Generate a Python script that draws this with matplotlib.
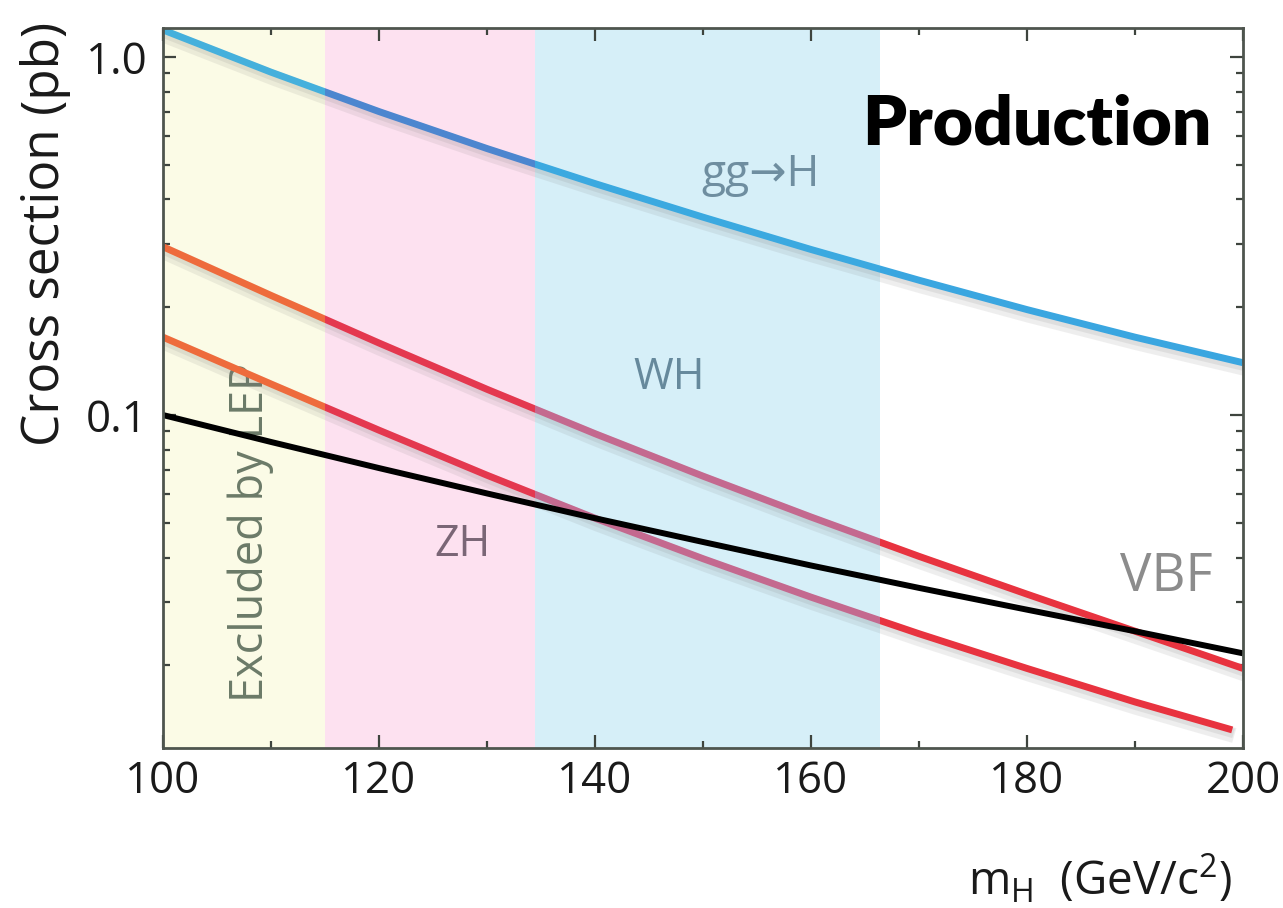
import matplotlib
matplotlib.use("Agg")
import matplotlib.pyplot as plt
from matplotlib.patches import Rectangle
from matplotlib import patheffects as pe
from matplotlib.ticker import FixedLocator, LogLocator, NullFormatter, FixedFormatter, MultipleLocator

# Higgs boson mass (GeV/c^2)
mass = [100, 110, 120, 130, 140, 150, 160, 170, 180, 190, 200]
mass_zh = [100, 110, 120, 130, 140, 150, 160, 170, 180, 190, 199]

# Production cross sections (pb)
sigma_ggh = [1.190, 0.907, 0.704, 0.555, 0.443, 0.357, 0.290, 0.238, 0.197, 0.165, 0.140]
sigma_wh = [0.2951, 0.2158, 0.1589, 0.1180, 0.0887, 0.0675, 0.0519, 0.0403, 0.0316, 0.0249, 0.0196]
sigma_zh = [0.1650, 0.1221, 0.0907, 0.0679, 0.0515, 0.0397, 0.0310, 0.0245, 0.0196, 0.0158, 0.0132]
sigma_vbf = [0.1000, 0.0841, 0.0711, 0.0604, 0.0515, 0.0442, 0.0380, 0.0329, 0.0286, 0.0249, 0.0216]

# Mass bands shaded behind the curves
band_edges = [100, 115, 134.4, 166.4, 200]
band_fill = ["#fbfbe6", "#fde1f0", "#d6eff8", "#ffffff"]

# Curve colours as seen through each band
blue_tones = ["#45b0dc", "#4c86cf", "#3ba9e0", "#3aa6e0"]
red_tones = ["#ee6b3c", "#e4384f", "#c4698f", "#e8333f"]

x_ticks = [100, 120, 140, 160, 180, 200]
y_ticks = [0.1, 1.0]
y_tick_labels = ["0.1", "1.0"]

plt.rcParams["font.family"] = ["Open Sans", "DejaVu Sans"]

fig = plt.figure(figsize=(12.83, 9.08), dpi=100)
ax = fig.add_axes([163 / 1283, 1 - 748 / 908, 1080 / 1283, 720 / 908])
ax.set_yscale("log")
ax.set_xlim(100, 200)
ax.set_ylim(0.01175, 1.205)

xt = ax.get_xaxis_transform()
for i, col in enumerate(band_fill[:3]):
    ax.axvspan(band_edges[i], band_edges[i + 1], color=col, lw=0, zorder=0)

shadow = [pe.SimpleLineShadow(offset=(1.5, -4), shadow_color="#7a7a7a", alpha=0.12, linewidth=11),
          pe.SimpleLineShadow(offset=(1, -2.5), shadow_color="#7a7a7a", alpha=0.13, linewidth=7),
          pe.Normal()]


def banded_curve(xs, ys, tones, lw=5.0):
    for i, col in enumerate(tones):
        ln, = ax.plot(xs, ys, color=col, lw=lw, solid_capstyle="butt", zorder=3,
                      path_effects=shadow)
        clip = Rectangle((band_edges[i], 0), band_edges[i + 1] - band_edges[i], 1, transform=xt)
        ln.set_clip_path(clip)


banded_curve(mass, sigma_ggh, blue_tones)
banded_curve(mass, sigma_wh, red_tones)
banded_curve(mass_zh, sigma_zh, red_tones)
ax.plot(mass, sigma_vbf, color="black", lw=4.3, zorder=5, solid_capstyle="butt")

# Axes styling
for side in ["left", "right", "top", "bottom"]:
    ax.spines[side].set_color("#4e554e")
    ax.spines[side].set_linewidth(2)
    ax.spines[side].set_zorder(6)

ax.xaxis.set_major_locator(FixedLocator(x_ticks))
ax.xaxis.set_minor_locator(MultipleLocator(10))
ax.yaxis.set_major_locator(FixedLocator(y_ticks))
ax.yaxis.set_major_formatter(FixedFormatter(y_tick_labels))
ax.yaxis.set_minor_locator(LogLocator(base=10, subs=[2, 3, 4, 5, 6, 7, 8, 9]))
ax.yaxis.set_minor_formatter(NullFormatter())
ax.tick_params(which="both", direction="in", top=True, right=True, color="#3e443e", width=1.6)
ax.tick_params(which="major", length=9.5)
ax.tick_params(which="minor", length=5)
ax.tick_params(axis="x", which="major", labelsize=31.5, pad=8, labelcolor="#1a1a1a")
ax.tick_params(axis="y", which="major", labelsize=31.5, pad=11, labelcolor="#1a1a1a")

fig.text(46 / 1283, 1 - 234 / 908, "Cross section (pb)", rotation=90, fontsize=37,
         ha="center", va="center", rotation_mode="anchor", color="#1a1a1a")
fig.text(1232 / 1283, 1 - 880 / 908, r"$\mathregular{m_H}$  (GeV/c$^{\mathregular{2}}$)",
         fontsize=33, ha="right", va="center", color="#1a1a1a")

# Curve and region labels
ax.text(0.971, 0.865, "Production", transform=ax.transAxes, fontsize=50, fontweight="heavy",
        family=["Lato", "DejaVu Sans"], ha="right", va="center", color="#000000", zorder=7)
ax.text(0.553, 0.796, "gg→H", transform=ax.transAxes, fontsize=32, ha="center", va="center",
        color="#6f8ea0", zorder=7)
ax.text(0.4685, 0.514, "WH", transform=ax.transAxes, fontsize=31, ha="center", va="center",
        color="#66899c", zorder=7)
ax.text(0.277, 0.282, "ZH", transform=ax.transAxes, fontsize=31, ha="center", va="center",
        color="#7a6676", zorder=7)
ax.text(0.972, 0.2375, "VBF", transform=ax.transAxes, fontsize=38, ha="right", va="center",
        color="#8c8c8c", zorder=7)
ax.text(0.0815, 0.30, "Excluded by LEP", transform=ax.transAxes, fontsize=32.5, rotation=90,
        rotation_mode="anchor", ha="center", va="center", color="#6b7a68", zorder=2)

fig.savefig("out.png", dpi=100, facecolor="white")
